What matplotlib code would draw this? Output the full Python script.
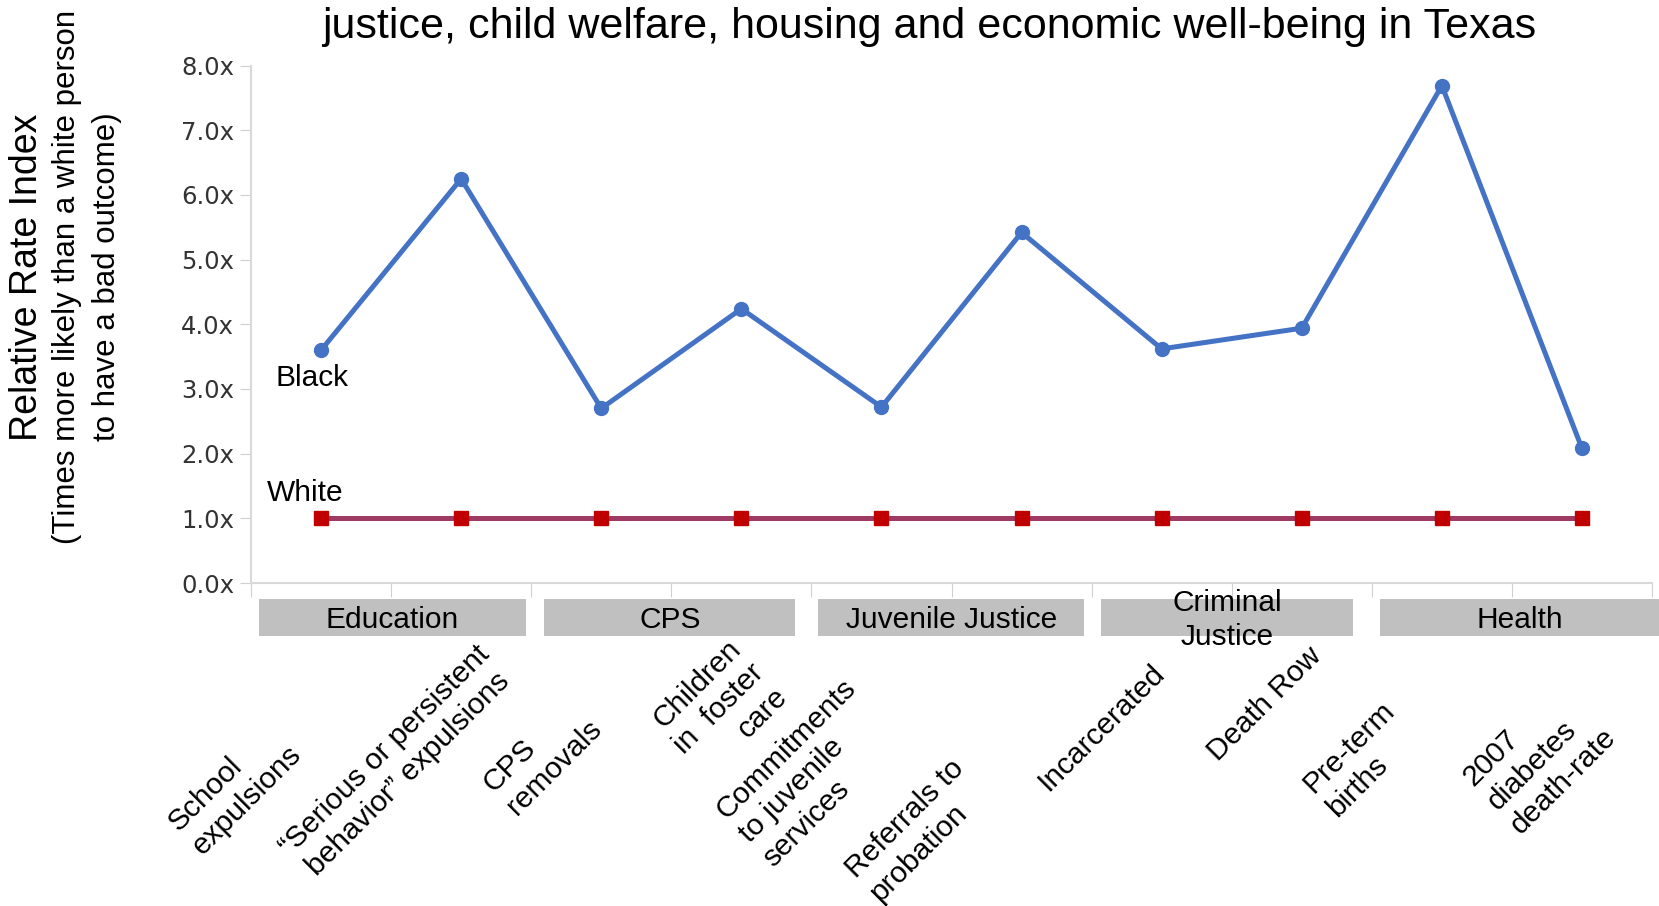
import matplotlib.pyplot as plt
from matplotlib.patches import Rectangle
import matplotlib.transforms as mtransforms

# data
measures = [
    "School\nexpulsions",
    "\u201cSerious or persistent\nbehavior\u201d expulsions",
    "CPS\nremovals",
    "Children\nin  foster\ncare",
    "Commitments\nto juvenile\nservices",
    "Referrals to\nprobation",
    "Incarcerated",
    "Death Row",
    "Pre-term\nbirths",
    "2007\ndiabetes\ndeath-rate",
]
black_rri = [3.6, 6.25, 2.7, 4.24, 2.72, 5.42, 3.62, 3.94, 7.69, 2.08]
white_rri = [1.0, 1.0, 1.0, 1.0, 1.0, 1.0, 1.0, 1.0, 1.0, 1.0]
y_ticks = [0, 1, 2, 3, 4, 5, 6, 7, 8]

groups = ["Education", "CPS", "Juvenile Justice", "Criminal\nJustice", "Health"]
group_spans = [(-0.446, 1.465), (1.594, 3.384), (3.55, 5.446), (5.566, 7.364), (7.56, 9.8)]

# label placement offsets (pixels) relative to each category at the x axis
label_offsets = [(-86, -205), (-65, -179), (-59, -173), (-22, -126), (-72, -190),
                 (-105, -248), (-60, -145), (-37, -121), (-81, -176), (-42, -174)]
label_align = ["left", "center", "left", "right", "left",
               "left", "left", "left", "left", "left"]

FONT = "Liberation Sans"

fig = plt.figure(figsize=(16.59, 9.06), dpi=100)
ax = fig.add_axes([0.1513, 0.3565, 0.8445, 0.5711])

x = list(range(len(measures)))
ax.plot(x, black_rri, color="#4472c4", lw=3.6, marker="o", ms=10, zorder=3)
ax.plot(x, white_rri, color="#9e3a64", lw=3.6, marker="s", ms=10,
        markerfacecolor="#c00000", markeredgecolor="#c00000", zorder=3)

ax.set_xlim(-0.5, 9.5)
ax.set_ylim(0, 8)
ax.set_yticks(y_ticks)
ax.set_yticklabels([f"{v:.1f}x" for v in y_ticks], fontsize=17.5,
                   color="#333333", family="DejaVu Sans")
ax.set_xticks([i + 0.5 for i in range(-1, len(measures))])
ax.set_xticklabels([])
ax.tick_params(axis="y", length=8, color="#d0d0d0", pad=4)
ax.tick_params(axis="x", length=10, color="#d0d0d0")
for s in ["top", "right"]:
    ax.spines[s].set_visible(False)
for s in ["left", "bottom"]:
    ax.spines[s].set_color("#d9d9d9")
    ax.spines[s].set_linewidth(1.5)

ax.text(-0.325, 3.17, "Black", fontsize=21.5, family=FONT, va="center", ha="left")
ax.text(-0.385, 1.39, "White", fontsize=21.5, family=FONT, va="center", ha="left")

# category group boxes under the axis
trans = mtransforms.blended_transform_factory(ax.transData, ax.transAxes)
for name, (x0, x1) in zip(groups, group_spans):
    ax.add_patch(Rectangle((x0, -0.102), x1 - x0, 0.071, transform=trans,
                           facecolor="#c0c0c0", edgecolor="none", clip_on=False))
    ax.text((x0 + min(x1, 9.55)) / 2, -0.0715, name, transform=trans, fontsize=21.5,
            family=FONT, ha="center", va="center", linespacing=1.25, clip_on=False)

# rotated measure labels
for i, (lab, (dx, dy), al) in enumerate(zip(measures, label_offsets, label_align)):
    ax.annotate(lab, xy=(i, 0), xycoords=trans, xytext=(dx, dy),
                textcoords="offset pixels", rotation=45, rotation_mode="anchor",
                ha="center", va="center", multialignment=al,
                fontsize=21.5, family=FONT, linespacing=1.25, annotation_clip=False)

fig.text(929 / 1659, 1 - 38 / 906,
         "justice, child welfare, housing and economic well-being in Texas",
         fontsize=31, family=FONT, ha="center", va="baseline")

fig.text(27.5 / 1659, 1 - 277 / 906, "Relative Rate Index", rotation=90,
         fontsize=27, family=FONT, ha="center", va="center")
fig.text(87 / 1659, 1 - 277 / 906,
         "(Times more likely than a white person\nto have a bad outcome)",
         rotation=90, fontsize=22.5, family=FONT, ha="center", va="center",
         linespacing=1.45)

fig.savefig("out.png", dpi=100)
